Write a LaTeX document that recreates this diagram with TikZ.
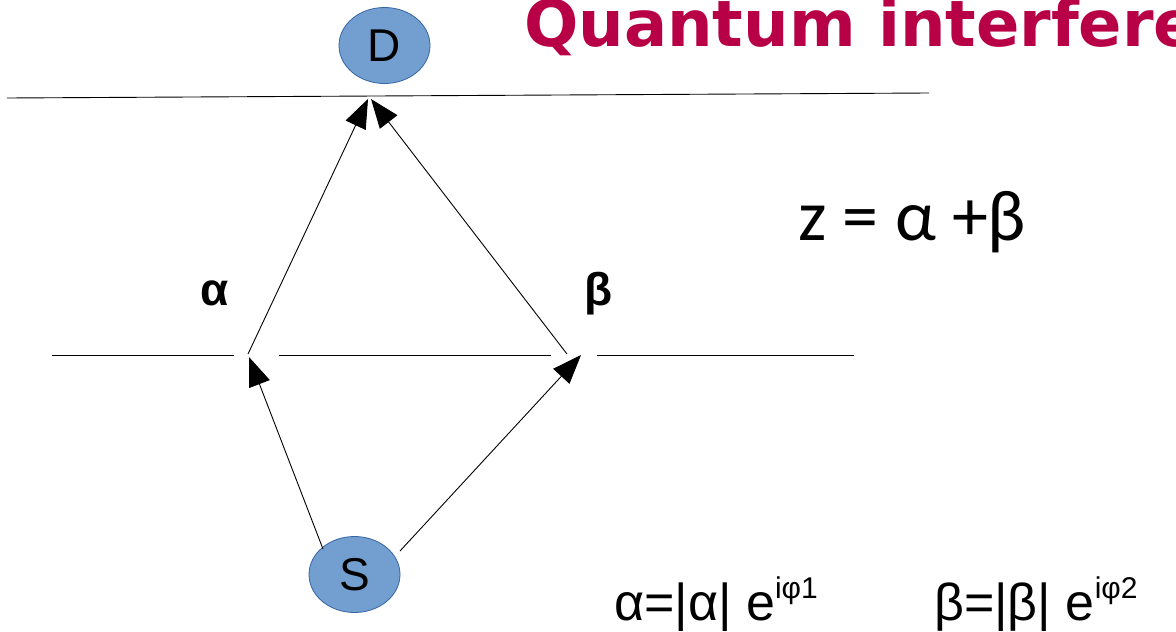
\documentclass[tikz,border=0pt]{standalone}
\usepackage{fontspec}
\setmainfont{Liberation Sans}
\newfontfamily\titlefont{DejaVu Sans}
\newfontfamily\carlitofont{Carlito}
\usetikzlibrary{arrows.meta,shapes.geometric}
\definecolor{titlered}{RGB}{184,0,70}
\definecolor{blobfill}{RGB}{114,159,207}
\definecolor{blobline}{RGB}{52,101,164}
\begin{document}
\begin{tikzpicture}[x=1pt,y=-1pt,
  blob/.style={ellipse,draw=blobline,fill=blobfill,line width=0.8pt,minimum width=91pt,minimum height=76pt,inner sep=0pt,font=\fontsize{46}{46}\selectfont},
  plain/.style={line width=0.9pt},
  arr/.style={line width=0.9pt,-{Triangle[length=29pt,width=22pt]}},
  lbl/.style={anchor=base west,inner sep=0pt}]
\clip (0,0) rectangle (1176,632);
\fill[white] (0,0) rectangle (1176,632);
% title
\node[lbl,text=titlered,font=\titlefont\bfseries\fontsize{64}{64}\selectfont] (title) at (524,46) {Quantum interference};
% nodes
\node[blob] (D) at (384.5,45.5) {D};
\node[blob] (S) at (354.5,574.5) {S};
% coordinates
\coordinate (topL) at (7,98);
\coordinate (topR) at (929,93);
\coordinate (m1a) at (52,355);
\coordinate (m1b) at (234,355);
\coordinate (m2a) at (279,355);
\coordinate (m2b) at (551,355);
\coordinate (m3a) at (597,355);
\coordinate (m3b) at (854,355);
\coordinate (aU) at (248,354);
\coordinate (bU) at (567,354);
\coordinate (dL) at (368,99);
\coordinate (dR) at (371,99);
\coordinate (aL) at (249,357);
\coordinate (bL) at (581,355);
\coordinate (sL) at (323,549);
\coordinate (sR) at (400,551);
% lines
\draw[plain] (topL) -- (topR);
\draw[plain] (m1a) -- (m1b);
\draw[plain] (m2a) -- (m2b);
\draw[plain] (m3a) -- (m3b);
% arrows
\draw[arr] (aU) -- (dL);
\draw[arr] (bU) -- (dR);
\draw[arr] (sL) -- (aL);
\draw[arr] (sR) -- (bL);
% labels
\node[lbl,font=\bfseries\fontsize{46}{46}\selectfont] (alab) at (200,305) {α};
\node[lbl,font=\bfseries\fontsize{46}{46}\selectfont] (blab) at (584,305) {β};
\node[lbl,font=\carlitofont\fontsize{72}{72}\selectfont] (zeq) at (798,240) {z = α +β};
\node[lbl,font=\fontsize{52}{52}\selectfont] (aeq) at (614,620) {α=|α| e\raisebox{22pt}{\fontsize{30}{30}\selectfont iφ1}};
\node[lbl,font=\fontsize{52}{52}\selectfont] (beq) at (934,620) {β=|β| e\raisebox{22pt}{\fontsize{30}{30}\selectfont iφ2}};
\end{tikzpicture}
\end{document}
